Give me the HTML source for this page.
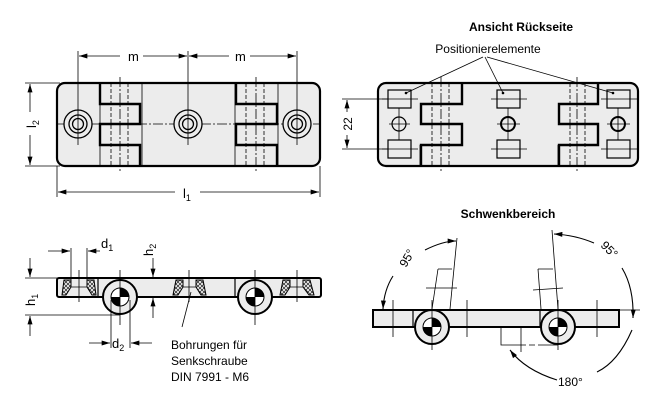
<!DOCTYPE html>
<html><head><meta charset="utf-8"><style>
html,body{margin:0;padding:0;background:#fff;}
svg{display:block;font-family:"Liberation Sans",sans-serif;}
</style></head><body>
<svg width="663" height="406" viewBox="0 0 663 406" xmlns="http://www.w3.org/2000/svg">
<defs>
<marker id="a" viewBox="0 0 10 6" refX="10" refY="3" markerWidth="9" markerHeight="5" orient="auto-start-reverse" markerUnits="userSpaceOnUse"><path d="M0,0L10,3L0,6z" fill="#000"/></marker>
<pattern id="h" width="4" height="4" patternUnits="userSpaceOnUse"><path d="M0,4L4,0M0,0L4,4" stroke="#000" stroke-width="0.6"/></pattern>
</defs>
<g stroke="#000" fill="none">
<!-- TOP LEFT -->
<rect x="57" y="83" width="263" height="83" rx="8" fill="#ececec" stroke-width="2.2"/>
<g stroke-width="0.8">
<line x1="100" y1="83" x2="100" y2="166"/><line x1="142" y1="83" x2="142" y2="166"/>
<line x1="235" y1="83" x2="235" y2="166"/><line x1="278" y1="83" x2="278" y2="166"/>
<g stroke-dasharray="4,2"><line x1="111" y1="83" x2="111" y2="166"/><line x1="128" y1="83" x2="128" y2="166"/><line x1="246" y1="83" x2="246" y2="166"/><line x1="264" y1="83" x2="264" y2="166"/></g>
<g stroke-dasharray="10,2,2,2"><line x1="120" y1="77" x2="120" y2="172"/><line x1="256" y1="77" x2="256" y2="172"/><line x1="57" y1="124" x2="320" y2="124"/></g>
</g>
<path d="M100,83V104H140V124H100V145H140V166" stroke-width="2.4"/>
<path d="M236,83V104H277V124H236V145H277V166" stroke-width="2.4"/>
<g stroke-width="1.3" fill="#ececec">
<circle cx="78" cy="124" r="14"/><circle cx="78" cy="124" r="9"/><circle cx="78" cy="124" r="5.5"/>
<circle cx="188" cy="124" r="14"/><circle cx="188" cy="124" r="9"/><circle cx="188" cy="124" r="5.5"/>
<circle cx="297" cy="124" r="14"/><circle cx="297" cy="124" r="9"/><circle cx="297" cy="124" r="5.5"/>
</g>
<g stroke-width="0.8">
<line x1="78" y1="51" x2="78" y2="145"/><line x1="188" y1="51" x2="188" y2="145"/><line x1="297" y1="51" x2="297" y2="145"/>
<line x1="79" y1="56" x2="120" y2="56" marker-start="url(#a)"/><line x1="143" y1="56" x2="187" y2="56" marker-end="url(#a)"/>
<line x1="189" y1="56" x2="229" y2="56" marker-start="url(#a)"/><line x1="250" y1="56" x2="296" y2="56" marker-end="url(#a)"/>
<line x1="25" y1="83" x2="60" y2="83"/><line x1="25" y1="166" x2="60" y2="166"/>
<line x1="30" y1="84" x2="30" y2="112" marker-start="url(#a)"/><line x1="30" y1="135" x2="30" y2="165" marker-end="url(#a)"/>
<line x1="57" y1="166" x2="57" y2="197"/><line x1="320" y1="166" x2="320" y2="197"/>
<line x1="58" y1="192" x2="175" y2="192" marker-start="url(#a)"/><line x1="200" y1="192" x2="319" y2="192" marker-end="url(#a)"/>
</g>
<!-- TOP RIGHT -->
<rect x="378" y="83" width="260" height="83" rx="8" fill="#ececec" stroke-width="2.2"/>
<g stroke-width="0.8">
<line x1="420" y1="145" x2="420" y2="166"/><line x1="462" y1="83" x2="462" y2="104"/>
<line x1="558" y1="145" x2="558" y2="166"/><line x1="598" y1="83" x2="598" y2="104"/>
<g stroke-dasharray="4,2"><line x1="432" y1="83" x2="432" y2="166"/><line x1="449" y1="83" x2="449" y2="166"/><line x1="570" y1="83" x2="570" y2="166"/><line x1="585" y1="83" x2="585" y2="166"/></g>
<g stroke-dasharray="10,2,2,2"><line x1="441" y1="77" x2="441" y2="172"/><line x1="577" y1="77" x2="577" y2="172"/></g>
</g>
<path d="M462,83V104H421V124H462V145H421V166" stroke-width="2.4"/>
<path d="M598,83V104H559V124H598V145H559V166" stroke-width="2.4"/>
<g stroke-width="1.2" fill="#ececec">
<rect x="388" y="90" width="23" height="18"/><rect x="388" y="140" width="23" height="18"/>
<rect x="497" y="90" width="23" height="18"/><rect x="497" y="140" width="23" height="18"/>
<rect x="607" y="90" width="23" height="18"/><rect x="607" y="140" width="23" height="18"/>
<circle cx="399" cy="124" r="7"/><circle cx="508" cy="124" r="7" stroke-width="2"/><circle cx="618" cy="124" r="7" stroke-width="2"/>
</g>
<g stroke-width="0.8">
<path d="M382,99H418M382,149H418M389,124H410M399,108V140M491,99H527M491,149H527M497,124H520M508,108V140M601,99H637M601,149H637M607,124H630M618,108V140"/>
<line x1="342" y1="99" x2="388" y2="99"/><line x1="342" y1="149" x2="388" y2="149"/>
<line x1="347" y1="100" x2="347" y2="112" marker-start="url(#a)"/><line x1="347" y1="135" x2="347" y2="148" marker-end="url(#a)"/>
<path d="M483,57L406,93M485,57L503,93M487,57L613,93"/>
</g>
<g fill="#000" stroke="none"><circle cx="406" cy="93" r="1.3"/><circle cx="503" cy="93" r="1.3"/><circle cx="613" cy="93" r="1.3"/></g>
<!-- BOTTOM LEFT -->
<rect x="57" y="278" width="264" height="19" rx="2" fill="#ececec" stroke-width="2"/>
<line x1="98" y1="278" x2="98" y2="297" stroke-width="1.2"/>
<line x1="235" y1="278" x2="235" y2="297" stroke-width="1.2"/>
<g stroke-width="1" fill="url(#h)">
<path d="M64,280L71,280L71,287L66,295L62,295Z"/><path d="M87,280L94,280L96,295L92,295L87,287Z"/>
<path d="M176,280L183,280L183,287L178,295L173,295Z"/><path d="M196,280L203,280L206,295L201,295L196,287Z"/>
<path d="M283,280L290,280L290,287L285,295L280,295Z"/><path d="M303,280L310,280L314,295L309,295L303,287Z"/>
</g>
<g stroke-width="0.8"><path d="M71,287H87M183,287H196M290,287H303"/></g>
<g stroke-width="2" fill="#ececec">
<circle cx="120" cy="297" r="17"/><circle cx="255" cy="297" r="17"/>
</g>
<g stroke-width="1"><circle cx="120" cy="297" r="9" fill="#fff"/><circle cx="255" cy="297" r="9" fill="#fff"/></g>
<g fill="#000" stroke="none"><path d="M120,297V288A9,9 0 0 1 129,297Z"/><path d="M120,297H111A9,9 0 0 0 120,306Z"/><path d="M255,297V288A9,9 0 0 1 264,297Z"/><path d="M255,297H246A9,9 0 0 0 255,306Z"/></g>
<g stroke-width="0.8">
<path d="M79,270V302M189,270V302M297,270V302M120,270V325M255,270V325"/>
<path d="M71,248V282M87,248V282"/>
<line x1="48" y1="251" x2="70" y2="251" marker-end="url(#a)"/><line x1="88" y1="251" x2="100" y2="251" marker-start="url(#a)"/>
<line x1="25" y1="278" x2="60" y2="278"/><line x1="25" y1="315" x2="120" y2="315"/>
<line x1="30" y1="258" x2="30" y2="277" marker-end="url(#a)"/><line x1="30" y1="336" x2="30" y2="316" marker-end="url(#a)"/>
<line x1="153" y1="258" x2="153" y2="277" marker-end="url(#a)"/><line x1="153" y1="318" x2="153" y2="298" marker-end="url(#a)"/>
<path d="M111,300V348M130,300V348"/>
<line x1="89" y1="343" x2="110" y2="343" marker-end="url(#a)"/><line x1="152" y1="343" x2="131" y2="343" marker-end="url(#a)"/>
<line x1="182" y1="327" x2="191" y2="292"/>
</g>
<!-- BOTTOM RIGHT -->
<rect x="373" y="310" width="246" height="17" fill="#ececec" stroke-width="2"/>
<line x1="413" y1="310" x2="413" y2="327" stroke-width="1.2"/>
<line x1="540" y1="310" x2="540" y2="327" stroke-width="1.2"/>
<g stroke-width="2" fill="#ececec">
<circle cx="432" cy="327" r="17"/><circle cx="558" cy="327" r="17"/>
</g>
<g stroke-width="1"><circle cx="432" cy="327" r="9" fill="#fff"/><circle cx="558" cy="327" r="9" fill="#fff"/></g>
<g fill="#000" stroke="none"><path d="M432,327V318A9,9 0 0 1 441,327Z"/><path d="M432,327H423A9,9 0 0 0 432,336Z"/><path d="M558,327V318A9,9 0 0 1 567,327Z"/><path d="M558,327H549A9,9 0 0 0 558,336Z"/></g>
<g stroke-width="0.8">
<path d="M501,328V345H520M541,345H558" /><path d="M520,345H541" stroke-dasharray="6,3"/>
<path d="M393,300V337M467,300V337M597,300V337M521,328V352M432,300V350M558,300V350"/>
<path d="M432,309L438,269M450,309L457,238M438,269H452M426,288H457"/>
<path d="M541,309L538,269M558,309L552,230M538,269H553M533,290L563,288"/>
<line x1="620" y1="310" x2="640" y2="310"/>
</g>
<g stroke-width="1.1">
<path d="M425,250Q443,241 456,241" marker-end="url(#a)"/>
<path d="M393,276Q384,290 383,309" marker-end="url(#a)"/>
<path d="M554,234Q575,235 594,243" marker-start="url(#a)"/>
<path d="M622,268Q634,288 633,318" marker-end="url(#a)"/>
<path d="M597,372Q618,362 632,330"/>
<path d="M557,380Q525,370 510,350" marker-end="url(#a)"/>
</g>
</g>
<g font-size="13" fill="#000">
<text x="128" y="61">m</text><text x="235" y="61">m</text>
<text x="183" y="198">l<tspan font-size="9" dy="3">1</tspan></text>
<text transform="translate(36,124) rotate(-90)" text-anchor="middle">l<tspan font-size="9" dy="3">2</tspan></text>
<text transform="translate(352,124) rotate(-90)" text-anchor="middle" font-size="12">22</text>
<text x="521" y="31" text-anchor="middle" font-weight="bold" font-size="12">Ansicht Rückseite</text>
<text x="488" y="53" text-anchor="middle" font-size="12">Positionierelemente</text>
<text x="101" y="248">d<tspan font-size="9" dy="3">1</tspan></text>
<text transform="translate(153,256) rotate(-90)">h<tspan font-size="9" dy="3">2</tspan></text>
<text transform="translate(35,306) rotate(-90)">h<tspan font-size="9" dy="3">1</tspan></text>
<text x="112" y="348">d<tspan font-size="9" dy="3">2</tspan></text>
<text x="171" y="349" font-size="12">Bohrungen für</text>
<text x="171" y="365" font-size="12">Senkschraube</text>
<text x="171" y="381" font-size="12">DIN 7991 - M6</text>
<text x="508" y="218" text-anchor="middle" font-weight="bold" font-size="12">Schwenkbereich</text>
<text transform="translate(406,268) rotate(-60)" font-size="12">95°</text>
<text transform="translate(600,246) rotate(45)" font-size="12">95°</text>
<text x="558" y="386" font-size="12">180°</text>
</g>
</svg>
</body></html>
